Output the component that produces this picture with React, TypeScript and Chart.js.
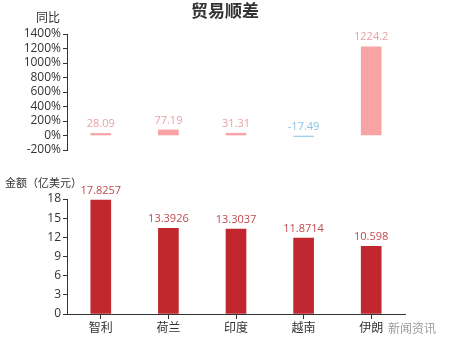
import React, { useEffect, useRef } from "react";
import { Chart, registerables } from "chart.js";

Chart.register(...registerables);

const categories = ["智利", "荷兰", "印度", "越南", "伊朗"];
const yoyValues = [28.09, 77.19, 31.31, -17.49, 1224.2];
const amountValues = [17.8257, 13.3926, 13.3037, 11.8714, 10.598];
const yoyLabels = ["28.09", "77.19", "31.31", "-17.49", "1224.2"];
const amountLabels = ["17.8257", "13.3926", "13.3037", "11.8714", "10.598"];

const FONT = "'Open Sans', 'Noto Sans CJK SC', sans-serif";
const CJK = "'Noto Sans CJK SC', sans-serif";

const valueLabelPlugin = (labels: string[], colors: string[]) => ({
  id: "valueLabels",
  afterDatasetsDraw(chart: any) {
    const ctx = chart.ctx;
    const meta = chart.getDatasetMeta(0);
    ctx.save();
    ctx.font = `11px ${FONT}`;
    ctx.textAlign = "center";
    ctx.textBaseline = "bottom";
    meta.data.forEach((el: any, i: number) => {
      const top = Math.min(el.y, el.base);
      ctx.fillStyle = colors[i];
      ctx.fillText(labels[i], el.x, top - 4);
    });
    ctx.restore();
  },
});

const textPlugin = (items: { text: string; x: number; y: number; font: string; color: string; align?: CanvasTextAlign }[]) => ({
  id: "texts",
  afterDraw(chart: any) {
    const ctx = chart.ctx;
    ctx.save();
    ctx.textBaseline = "middle";
    items.forEach((it) => {
      ctx.font = it.font;
      ctx.fillStyle = it.color;
      ctx.textAlign = it.align || "left";
      ctx.fillText(it.text, it.x, it.y);
    });
    ctx.restore();
  },
});

export default function App() {
  const topRef = useRef<HTMLCanvasElement>(null);
  const botRef = useRef<HTMLCanvasElement>(null);

  useEffect(() => {
    const pinkBar = "#f9a3a5";
    const blueBar = "#a3d1ea";
    const pinkLabel = "#e9a0a6";
    const blueLabel = "#8cc3e2";
    const topBarColors = yoyValues.map((v) => (v < 0 ? blueBar : pinkBar));
    const topLabelColors = yoyValues.map((v) => (v < 0 ? blueLabel : pinkLabel));

    const top = new Chart(topRef.current!, {
      type: "bar",
      data: {
        labels: categories,
        datasets: [
          {
            data: yoyValues,
            backgroundColor: topBarColors,
            barThickness: 20,
          },
        ],
      },
      options: {
        animation: false,
        responsive: false,
        maintainAspectRatio: false,
        layout: { padding: { top: 34, bottom: 15, right: 45, left: 0 } },
        plugins: { legend: { display: false }, tooltip: { enabled: false }, title: { display: false } },
        scales: {
          x: { display: false, offset: true },
          y: {
            min: -200,
            max: 1400,
            afterFit: (s: any) => {
              s.width = 67;
            },
            ticks: {
              stepSize: 200,
              autoSkip: false,
              color: "#333",
              font: { size: 12, family: FONT },
              padding: 2,
              callback: (v: any) => `${v}%`,
            },
            grid: { drawOnChartArea: false, drawTicks: true, tickLength: 4, color: "#333" },
            border: { display: true, color: "#333" },
          },
        },
      },
      plugins: [
        valueLabelPlugin(yoyLabels, topLabelColors),
        textPlugin([
          { text: "贸易顺差", x: 225, y: 11, font: `bold 17px ${CJK}`, color: "#333", align: "center" },
          { text: "同比", x: 48, y: 17, font: `12px ${CJK}`, color: "#333", align: "center" },
        ]),
      ],
    });

    const bot = new Chart(botRef.current!, {
      type: "bar",
      data: {
        labels: categories,
        datasets: [
          {
            data: amountValues,
            backgroundColor: "#c1272f",
            barThickness: 20,
          },
        ],
      },
      options: {
        animation: false,
        responsive: false,
        maintainAspectRatio: false,
        layout: { padding: { top: 34, bottom: 0, right: 45, left: 0 } },
        plugins: { legend: { display: false }, tooltip: { enabled: false } },
        scales: {
          x: {
            offset: true,
            afterFit: (s: any) => {
              s.height = 36;
            },
            ticks: { color: "#333", font: { size: 12, family: CJK }, padding: 1 },
            grid: { drawOnChartArea: false, drawTicks: true, tickLength: 5, color: "#333", offset: false },
            border: { display: true, color: "#333" },
          },
          y: {
            min: 0,
            max: 18,
            afterFit: (s: any) => {
              s.width = 67;
            },
            ticks: { stepSize: 3, autoSkip: false, color: "#333", font: { size: 12, family: FONT }, padding: 2 },
            grid: { drawOnChartArea: false, drawTicks: true, tickLength: 4, color: "#333" },
            border: { display: true, color: "#333" },
          },
        },
      },
      plugins: [
        valueLabelPlugin(amountLabels, amountValues.map(() => "#c0494d")),
        textPlugin([
          { text: "金额（亿美元）", x: 5, y: 18, font: `11px ${CJK}`, color: "#333", align: "left" },
          { text: "新闻资讯", x: 388, y: 163, font: `12px ${CJK}`, color: "#9a9a9a", align: "left" },
        ]),
      ],
    });

    return () => {
      top.destroy();
      bot.destroy();
    };
  }, []);

  return (
    <div style={{ position: "absolute", left: 0, top: 0, width: 450, height: 350, background: "#fff" }}>
      <canvas ref={topRef} width={450} height={165} style={{ position: "absolute", left: 0, top: 0 }} />
      <canvas ref={botRef} width={450} height={185} style={{ position: "absolute", left: 0, top: 165 }} />
    </div>
  );
}
